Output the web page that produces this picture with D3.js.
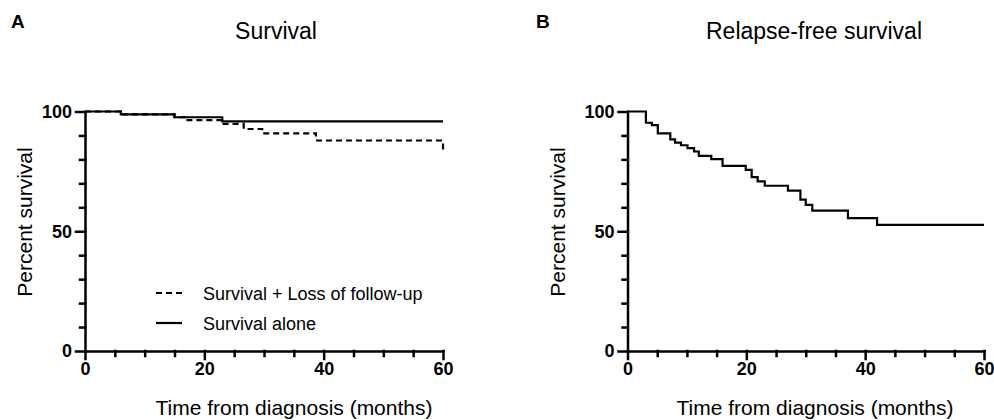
<!DOCTYPE html>
<html>
<head>
<meta charset="utf-8">
<script src="https://cdn.jsdelivr.net/npm/d3@7"></script>
<style>
  body { margin: 0; background: #fff; }
  text { font-family: Arial, "Liberation Sans", sans-serif; fill: #000; }
</style>
</head>
<body>
<div id="container"></div>
<script>
/* DATA */
const monthTicks = [0, 20, 40, 60];
const monthMinor = [5, 10, 15, 25, 30, 35, 45, 50, 55];
const percentTicks = [0, 50, 100];
const percentMinor = [10, 20, 30, 40, 60, 70, 80, 90];

// panel A - survival alone
const aloneTime  = [0, 6, 15, 23, 60];
const aloneValue = [100, 98.8, 97.6, 95.9, 95.9];

// panel A - survival + loss of follow-up
const lossTime  = [0, 6, 15, 16.8, 23, 26.6, 29.7, 38.7, 60];
const lossValue = [100, 98.8, 97.6, 96.4, 94.8, 92.7, 90.9, 87.9, 83.2];

// panel B - relapse-free survival
const relapseTime  = [0, 3.1, 4.1, 5.1, 7.2, 8.0, 9.0, 10.1, 11.2, 12.0, 14.1, 16.0, 19.9, 20.9, 21.9, 23.1, 27.0, 29.1, 30.0, 31.1, 37.1, 42.0, 60];
const relapseValue = [100, 95.3, 94.3, 90.9, 88.4, 87.0, 85.9, 84.7, 83.3, 81.5, 80.1, 77.3, 75.6, 72.6, 70.8, 69.0, 67.0, 63.2, 61.0, 58.6, 55.5, 52.7, 52.7];

const legendLabels = ["Survival + Loss of follow-up", "Survival alone"];

/* CONSTANTS */
const width = 994, height = 420;
const yBottom = 351, yTop = 111.5;

const svg = d3.select("#container")
  .append("svg")
  .attr("width", width)
  .attr("height", height)
  .style("background-color", "white");

const zip = (t, v) => t.map((d, i) => ({ t: d, v: v[i] }));

function drawPanel(p) {
  const x = d3.scaleLinear().domain([0, 60]).range([p.left, p.right]);
  const y = d3.scaleLinear().domain([0, 100]).range([yBottom, yTop]);
  const g = svg.append("g");

  // minor ticks
  g.append("g")
    .attr("transform", `translate(0,${yBottom})`)
    .call(d3.axisBottom(x).tickValues(monthMinor).tickSize(5).tickFormat(""))
    .call(a => a.select(".domain").remove());
  g.append("g")
    .attr("transform", `translate(${p.left},0)`)
    .call(d3.axisLeft(y).tickValues(percentMinor).tickSize(5).tickFormat(""))
    .call(a => a.select(".domain").remove());

  // major axes
  g.append("g")
    .attr("transform", `translate(0,${yBottom})`)
    .call(d3.axisBottom(x).tickValues(monthTicks).tickSize(8).tickSizeOuter(0).tickPadding(3));
  g.append("g")
    .attr("transform", `translate(${p.left},0)`)
    .call(d3.axisLeft(y).tickValues(percentTicks).tickSize(9).tickSizeOuter(0).tickPadding(4));

  g.selectAll(".tick line, .domain")
    .attr("stroke", "black")
    .attr("stroke-width", 2.5)
    .attr("stroke-linecap", "square");
  g.selectAll(".tick text")
    .style("font-size", "18px")
    .style("font-weight", "bold")
    .style("font-family", "Arial, 'Liberation Sans', sans-serif");

  // curves
  const line = d3.line()
    .x(d => x(d.t))
    .y(d => y(d.v))
    .curve(d3.curveStepAfter);

  p.series.forEach(s => {
    g.append("path")
      .datum(zip(s.time, s.value))
      .attr("fill", "none")
      .attr("stroke", "black")
      .attr("stroke-width", 2.2)
      .attr("stroke-dasharray", s.dash || null)
      .attr("d", line);
  });

  // titles
  svg.append("text")
    .attr("x", p.letterX).attr("y", 28)
    .style("font-size", "19px").style("font-weight", "bold")
    .text(p.letter);
  svg.append("text")
    .attr("x", p.titleX).attr("y", 39)
    .attr("text-anchor", "middle")
    .style("font-size", "23px")
    .text(p.title);
  svg.append("text")
    .attr("x", p.xLabelX).attr("y", 415)
    .attr("text-anchor", "middle")
    .style("font-size", "21px")
    .text("Time from diagnosis (months)");
  svg.append("text")
    .attr("transform", `translate(${p.yLabelX},222) rotate(-90)`)
    .attr("text-anchor", "middle")
    .style("font-size", "21px")
    .text("Percent survival");
}

drawPanel({
  left: 85, right: 443, letter: "A", letterX: 11, title: "Survival", titleX: 276,
  xLabelX: 294, yLabelX: 32,
  series: [
    { time: aloneTime, value: aloneValue },
    { time: lossTime, value: lossValue, dash: "6,4" }
  ]
});

drawPanel({
  left: 627.5, right: 984, letter: "B", letterX: 536, title: "Relapse-free survival", titleX: 814,
  xLabelX: 815, yLabelX: 565,
  series: [
    { time: relapseTime, value: relapseValue }
  ]
});

// LEGEND (panel A)
const legendY = [293, 323];
const legendDash = ["6,4", null];
const legend = svg.append("g");
legendLabels.forEach((lab, i) => {
  legend.append("line")
    .attr("x1", 156).attr("x2", 182)
    .attr("y1", legendY[i]).attr("y2", legendY[i])
    .attr("stroke", "black")
    .attr("stroke-width", 2.2)
    .attr("stroke-dasharray", legendDash[i]);
  legend.append("text")
    .attr("x", 203).attr("y", legendY[i] + 7)
    .style("font-size", "18px")
    .text(lab);
});
</script>
</body>
</html>
